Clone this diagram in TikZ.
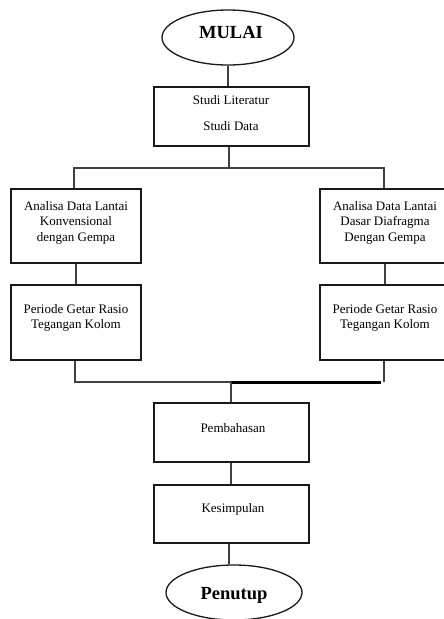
\documentclass[tikz,border=0pt]{standalone}
\usepackage{fontspec}
\setmainfont{Liberation Serif}
\usetikzlibrary{shapes.geometric}
\begin{document}
\begin{tikzpicture}[x=1pt,y=-1pt,
  box/.style={draw=black!90, line width=1.4pt, rectangle, inner sep=0pt},
  term/.style={draw=black!90, ellipse, line width=1.3pt, inner sep=0pt},
  conn/.style={line width=1.4pt, draw=black!75},
  thick conn/.style={line width=3.6pt},
  txt/.style={font=\fontsize{13}{15.5}\selectfont, align=center, inner sep=0pt, anchor=north},
  ttl/.style={font=\fontsize{18.5}{20}\selectfont\bfseries, inner sep=0pt, anchor=north}]
\useasboundingbox (0,0) rectangle (444,619);

% shapes
\node[term, minimum width=132pt, minimum height=55pt] (mulai) at (228,37.5) {};
\node[box, minimum width=155pt, minimum height=59pt] (studi) at (231.5,116.5) {};
\node[box, minimum width=130pt, minimum height=74pt] (lt) at (76,226) {};
\node[box, minimum width=130pt, minimum height=75pt] (lb) at (76,322.5) {};
\node[box, minimum width=130pt, minimum height=74pt] (rt) at (385,226) {};
\node[box, minimum width=130pt, minimum height=75pt] (rb) at (385,322.5) {};
\node[box, minimum width=155pt, minimum height=59pt] (pemb) at (231.5,432.5) {};
\node[box, minimum width=155pt, minimum height=58pt] (kes) at (231.5,514) {};
\node[term, minimum width=136pt, minimum height=55pt] (penutup) at (234,592.5) {};

% texts
\node[ttl] (tmulai) at (231,26.5) {MULAI};
\node[txt] (tstudi) at (231,95) {Studi Literatur\\[10.5pt]Studi Data};
\node[txt] (tlt) at (76,201) {Analisa Data Lantai\\Konvensional\\dengan Gempa};
\node[txt] (tlb) at (76,304) {Periode Getar Rasio\\Tegangan Kolom};
\node[txt] (trt) at (385,201) {Analisa Data Lantai\\Dasar Diafragma\\Dengan Gempa};
\node[txt] (trb) at (385,304) {Periode Getar Rasio\\Tegangan Kolom};
\node[txt] (tpemb) at (233,423) {Pembahasan};
\node[txt] (tkes) at (233,503) {Kesimpulan};
\node[ttl] (tpen) at (234,587.5) {Penutup};

% connector points
\coordinate (split) at (229,168);
\coordinate (hl) at (74,168);
\coordinate (hr) at (384,168);
\coordinate (jl) at (75,382);
\coordinate (jm) at (231,382);
\coordinate (jr) at (381,382.5);
\coordinate (jrv) at (384,382);
\coordinate (kp) at (229,553);

% connectors
\draw[conn] (mulai.south) -- (mulai.south |- studi.north);
\draw[conn] (split |- studi.south) -- (split);
\draw[conn] (hl |- lt.north) -- (hl) -- (hr) -- (hr |- rt.north);
\draw[conn] (lt.south) -- (lb.north);
\draw[conn] (rt.south) -- (rb.north);
\draw[conn] (jl |- lb.south) -- (jl) -- (jm);
\draw[thick conn] (jm |- jr) -- (jr);
\draw[conn] (jrv |- rb.south) -- (jrv);
\draw[conn] (jm) -- (jm |- pemb.north);
\draw[conn] (pemb.south -| jm) -- (kes.north -| jm);
\draw[conn] (kp |- kes.south) -- (kp |- penutup.north);
\end{tikzpicture}
\end{document}
